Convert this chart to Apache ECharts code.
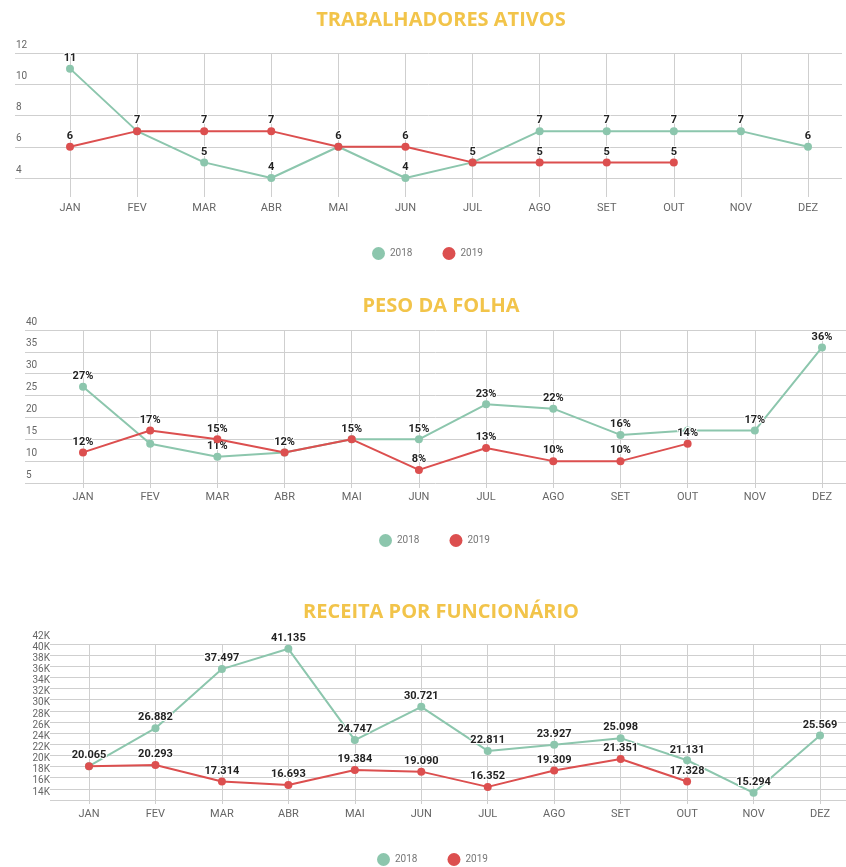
<!DOCTYPE html>
<html>
<head>
<meta charset="utf-8">
<script src="https://cdn.jsdelivr.net/npm/echarts@6/dist/echarts.min.js"></script>
<style>html,body{margin:0;padding:0;background:#fff}#c{width:846px;height:867px}</style>
</head>
<body>
<div id="c"></div>
<script>
var months = ['JAN','FEV','MAR','ABR','MAI','JUN','JUL','AGO','SET','OUT','NOV','DEZ'];
var seriesNames = ['2018','2019'];
var titles = ['TRABALHADORES ATIVOS','PESO DA FOLHA','RECEITA POR FUNCIONÁRIO'];

var trab2018 = [11,7,5,4,6,4,5,7,7,7,7,6];
var trab2019 = [6,7,7,7,6,6,5,5,5,5];

var peso2018 = [27,14,11,12,15,15,23,22,16,17,17,36];
var peso2019 = [12,17,15,12,15,8,13,10,10,14];

var receita2018 = [20065,26882,37497,41135,24747,30721,22811,23927,25098,21131,15294,25569];
var receita2019 = [20065,20293,17314,16693,19384,19090,16352,19309,21351,17328];

var trabTicks = {min:4, max:12, interval:2};
var pesoTicks = {min:5, max:40, interval:5};
var receitaTicks = {min:14000, max:42000, interval:2000};

var GREEN = '#8cc6ad', RED = '#dc4f4f', GRID = '#cfcfcf';
var FONT = 'Roboto';

function fmtThousands(v){ return String(v).replace(/\B(?=(\d{3})+(?!\d))/g,'.'); }

var charts = [
  {title:titles[0], d:[trab2018,trab2019], ticks:trabTicks, top:53, bottomY:178, wideL:15, wideR:4, narL:70, narR:38,
   titleY:5, legendX:367, legendY:242, tickLen:19, labMargin:25, yInside:true, yFmt:function(v){return v;}, dFmt:function(v){return v;}, hide:[[],[]]},
  {title:titles[1], d:[peso2018,peso2019], ticks:pesoTicks, top:330, bottomY:483, wideL:25, wideR:0, narL:83, narR:24,
   titleY:291, legendX:374, legendY:529, tickLen:5, labMargin:9, yInside:true, yFmt:function(v){return v;}, dFmt:function(v){return v+'%';}, hide:[[1,9],[]]},
  {title:titles[2], d:[receita2018,receita2019], ticks:receitaTicks, top:644, bottomY:800, wideL:50, wideR:0, narL:89, narR:26,
   titleY:597, legendX:372, legendY:848, tickLen:4, labMargin:9, yInside:false, yFmt:function(v){return (v/1000)+'K';}, dFmt:fmtThousands, hide:[[],[0]]}
];

var H = 867;
var option = {animation:false, title:[], legend:[], grid:[], xAxis:[], yAxis:[], series:[]};

charts.forEach(function(c, i){
  option.title.push({text:c.title, left:436, top:c.titleY, textAlign:'center',
    textStyle:{color:'#f2c44a', fontSize:20, fontWeight:'bold', fontFamily:'Open Sans'}});
  option.legend.push({data:seriesNames, left:c.legendX, top:c.legendY, icon:'circle', itemWidth:13, itemHeight:13, itemGap:30,
    textStyle:{color:'#777', fontSize:10, fontFamily:FONT}});
  var gw = i*2, gn = i*2+1;
  option.grid.push({left:c.wideL, right:c.wideR, top:c.top, bottom:H-c.bottomY, containLabel:false});
  option.grid.push({left:c.narL, right:c.narR, top:c.top, bottom:H-c.bottomY, containLabel:false});
  option.xAxis.push({type:'value', gridIndex:gw, show:false});
  option.xAxis.push({type:'category', gridIndex:gn, data:months, boundaryGap:false,
    axisLine:{show:false},
    axisTick:{show:true, length:c.tickLen, lineStyle:{color:GRID}},
    splitLine:{show:true, lineStyle:{color:GRID, width:1}},
    axisLabel:{color:'#666', fontSize:11, fontFamily:FONT, margin:c.labMargin, interval:0}});
  option.yAxis.push({type:'value', gridIndex:gw, min:c.ticks.min, max:c.ticks.max, interval:c.ticks.interval,
    axisLine:{show:false}, axisTick:{show:false},
    splitLine:{show:true, lineStyle:{color:GRID, width:1}},
    axisLabel:{inside:c.yInside, align:c.yInside?'left':'right', verticalAlign:'bottom', padding:[0,0,3,0],
      margin:c.yInside?1:0, color:'#666', fontSize:10, fontFamily:FONT, formatter:c.yFmt}});
  option.yAxis.push({type:'value', gridIndex:gn, min:c.ticks.min, max:c.ticks.max, interval:c.ticks.interval, show:false});
  [0,1].forEach(function(s){
    var col = s===0?GREEN:RED;
    var vals = c.d[s];
    var hide = c.hide[s];
    option.series.push({
      name:seriesNames[s], type:'line', xAxisIndex:gn, yAxisIndex:gn,
      data: vals.map(function(v, k){ return hide.indexOf(k)>=0 ? {value:v, label:{show:false}} : v; }),
      symbol:'circle', symbolSize:8, showAllSymbol:true,
      itemStyle:{color:col}, lineStyle:{color:col, width:2},
      label:{show:true, position:'top', distance:1, color:'#222', fontSize:11, fontWeight:'bold', fontFamily:FONT,
        textBorderColor:'#fff', textBorderWidth:2, formatter:function(p){return c.dFmt(p.value);}},
      z: s===0?3:4
    });
  });
});

var chart = echarts.init(document.getElementById('c'));
chart.setOption(option);
</script>
</body>
</html>
